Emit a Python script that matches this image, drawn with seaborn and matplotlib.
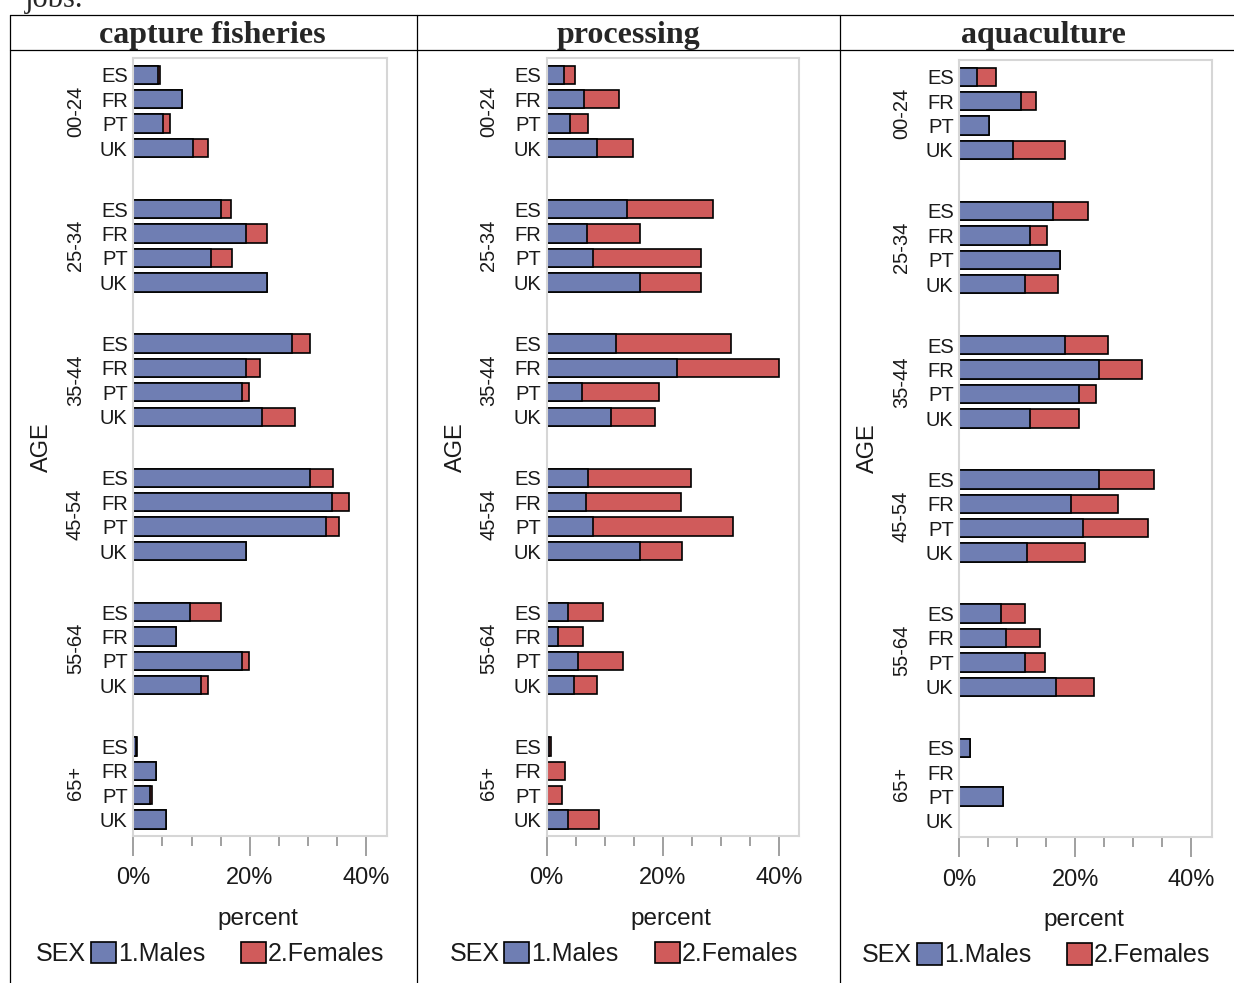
import numpy as np
import pandas as pd
import seaborn as sns
import matplotlib.pyplot as plt
from matplotlib.patches import Patch
from matplotlib.lines import Line2D
from matplotlib.ticker import FixedLocator

sns.set_theme(style='white')
plt.rcParams['font.family'] = ['Liberation Sans', 'DejaVu Sans']

ages = ['00-24', '25-34', '35-44', '45-54', '55-64', '65+']
countries = ['ES', 'FR', 'PT', 'UK']
sectors = ['capture fisheries', 'processing', 'aquaculture']

# percent of jobs, rows = age groups, columns = ES FR PT UK
capture_males = [[4.2, 8.4, 5.1, 10.3],
                 [15.1, 19.3, 13.4, 22.9],
                 [27.3, 19.3, 18.7, 22.1],
                 [30.3, 34.1, 33.1, 19.4],
                 [9.7, 7.4, 18.7, 11.7],
                 [0.5, 3.9, 2.8, 5.6]]
capture_females = [[0.3, 0.0, 1.2, 2.6],
                   [1.6, 3.6, 3.6, 0.0],
                   [3.1, 2.5, 1.1, 5.6],
                   [4.0, 2.9, 2.2, 0.0],
                   [5.3, 0.0, 1.1, 1.2],
                   [0.2, 0.0, 0.4, 0.0]]

processing_males = [[3.0, 6.5, 4.0, 8.6],
                    [13.8, 6.9, 7.9, 16.1],
                    [12.0, 22.4, 6.1, 11.0],
                    [7.2, 6.8, 7.9, 16.1],
                    [3.7, 2.0, 5.4, 4.7],
                    [0.4, 0.0, 0.0, 3.7]]
processing_females = [[1.8, 5.9, 3.2, 6.2],
                      [14.8, 9.2, 18.7, 10.5],
                      [19.7, 17.6, 13.2, 7.6],
                      [17.6, 16.3, 24.2, 7.3],
                      [6.0, 4.2, 7.7, 3.9],
                      [0.3, 3.1, 2.7, 5.3]]

aquaculture_males = [[3.1, 10.6, 5.2, 9.3],
                     [16.2, 12.1, 17.3, 11.4],
                     [18.3, 24.1, 20.7, 12.1],
                     [24.1, 19.3, 21.4, 11.7],
                     [7.2, 8.0, 11.4, 16.6],
                     [1.8, 0.0, 7.6, 0.0]]
aquaculture_females = [[3.2, 2.6, 0.0, 9.0],
                       [5.9, 3.1, 0.0, 5.6],
                       [7.3, 7.4, 2.8, 8.6],
                       [9.5, 8.0, 11.1, 10.0],
                       [4.2, 5.9, 3.4, 6.6],
                       [0.0, 0.0, 0.0, 0.0]]

males = [capture_males, processing_males, aquaculture_males]
females = [capture_females, processing_females, aquaculture_females]

blue = '#6F7EB3'
red = '#D05B5B'
W, H = 1234, 983
group_step = 5.5

rows = []
for s, sector in enumerate(sectors):
    for g, age in enumerate(ages):
        for c, country in enumerate(countries):
            m = males[s][g][c]
            f = females[s][g][c]
            rows.append(dict(sector=sector, age=age, country=country, pos=g * group_step + c,
                             male=m, total=m + f))
df = pd.DataFrame(rows)

fig = plt.figure(figsize=(W / 100, H / 100), dpi=100)


def px_axes(left, top, right, bottom):
    return fig.add_axes([left / W, 1 - bottom / H, (right - left) / W, (bottom - top) / H])


boxes = [(133.3, 57.7, 386.7, 836.0), (546.7, 57.7, 799.0, 836.0), (959.3, 59.7, 1211.7, 837.3)]
positions = [g * group_step + c for g in range(len(ages)) for c in range(len(countries))]

for s, sector in enumerate(sectors):
    ax = px_axes(*boxes[s])
    d = df[df.sector == sector]
    tot = d[d.total > 0]
    mal = d[d.male > 0]
    sns.barplot(data=tot, x='total', y='pos', orient='h', native_scale=True, color=red,
                saturation=1, edgecolor='black', linewidth=1.2, width=0.75, errorbar=None, ax=ax)
    sns.barplot(data=mal, x='male', y='pos', orient='h', native_scale=True, color=blue,
                saturation=1, edgecolor='black', linewidth=1.2, width=0.75, errorbar=None, ax=ax)

    ax.set_xlim(0, 43.5)
    ax.set_ylim(5 * group_step + 3 + 0.67, -0.7)
    ax.set_xlabel('')
    ax.set_ylabel('')
    ax.set_yticks(positions)
    ax.set_yticklabels(countries * len(ages), fontsize=14.5, color='#1a1a1a')
    ax.tick_params(axis='y', length=0, pad=4)
    ax.set_xticks([0, 20, 40])
    ax.set_xticklabels(['0%', '20%', '40%'], fontsize=17, color='#1a1a1a')
    ax.xaxis.set_minor_locator(FixedLocator([5, 10, 15, 25, 30, 35]))
    ax.tick_params(axis='x', which='major', bottom=True, length=14.5, width=1.3,
                   color='#999999', pad=8)
    ax.tick_params(axis='x', which='minor', bottom=True, length=7, width=1.3, color='#999999')
    for sp in ax.spines.values():
        sp.set_color('#d6d6d6')
        sp.set_linewidth(1.5)
        sp.set_visible(True)

    for g, age in enumerate(ages):
        ax.annotate(age, xy=(0, g * group_step + 1.5), xycoords=('axes fraction', 'data'),
                    xytext=(-58, 0), textcoords='offset pixels', rotation=90,
                    ha='center', va='center', fontsize=14.5, color='#1a1a1a')
    ax.annotate('AGE', xy=(0, 0.5), xycoords='axes fraction', xytext=(-91, 0),
                textcoords='offset pixels', rotation=90, ha='center', va='center',
                fontsize=17, color='#1a1a1a')
    ax.annotate('percent', xy=(0.5, 0), xycoords='axes fraction', xytext=(-2, -83),
                textcoords='offset pixels', ha='center', va='center',
                fontsize=17.5, color='#1a1a1a')

    ax.annotate('SEX', xy=(0, 0), xycoords='axes fraction', xytext=(-97, -118),
                textcoords='offset pixels', ha='left', va='center',
                fontsize=18, color='#1a1a1a')
    handles = [Patch(facecolor=blue, edgecolor='black', linewidth=1.2, label='1.Males'),
               Patch(facecolor=red, edgecolor='black', linewidth=1.2, label='2.Females')]
    aw = boxes[s][2] - boxes[s][0]
    ah = boxes[s][3] - boxes[s][1]
    ax.legend(handles=handles, loc='center left', bbox_to_anchor=(-42.6 / aw, -118 / ah),
              ncol=2, frameon=False, fontsize=18, handlelength=1.0, handleheight=0.95,
              handletextpad=0.08, columnspacing=1.45, borderpad=0, borderaxespad=0,
              labelcolor='#1a1a1a')

# table frame and headers
line_kw = dict(color='black', linewidth=0.9, transform=fig.transFigure)
for yy in (15, 50):
    fig.add_artist(Line2D([10 / W, 1], [1 - yy / H, 1 - yy / H], **line_kw))
for xx in (10, 417, 840):
    fig.add_artist(Line2D([xx / W, xx / W], [1 - 15 / H, 0], **line_kw))

header_x = [212, 628.5, 1043]
for s, sector in enumerate(sectors):
    fig.text(header_x[s] / W, 1 - 35 / H, sector, ha='center', va='center',
             family='Liberation Serif', weight='bold', fontsize=23)
fig.text(25 / W, 1 - 7 / H, 'jobs.', ha='left', va='baseline',
         family='Liberation Serif', fontsize=22)

fig.savefig('out.png', dpi=100)
